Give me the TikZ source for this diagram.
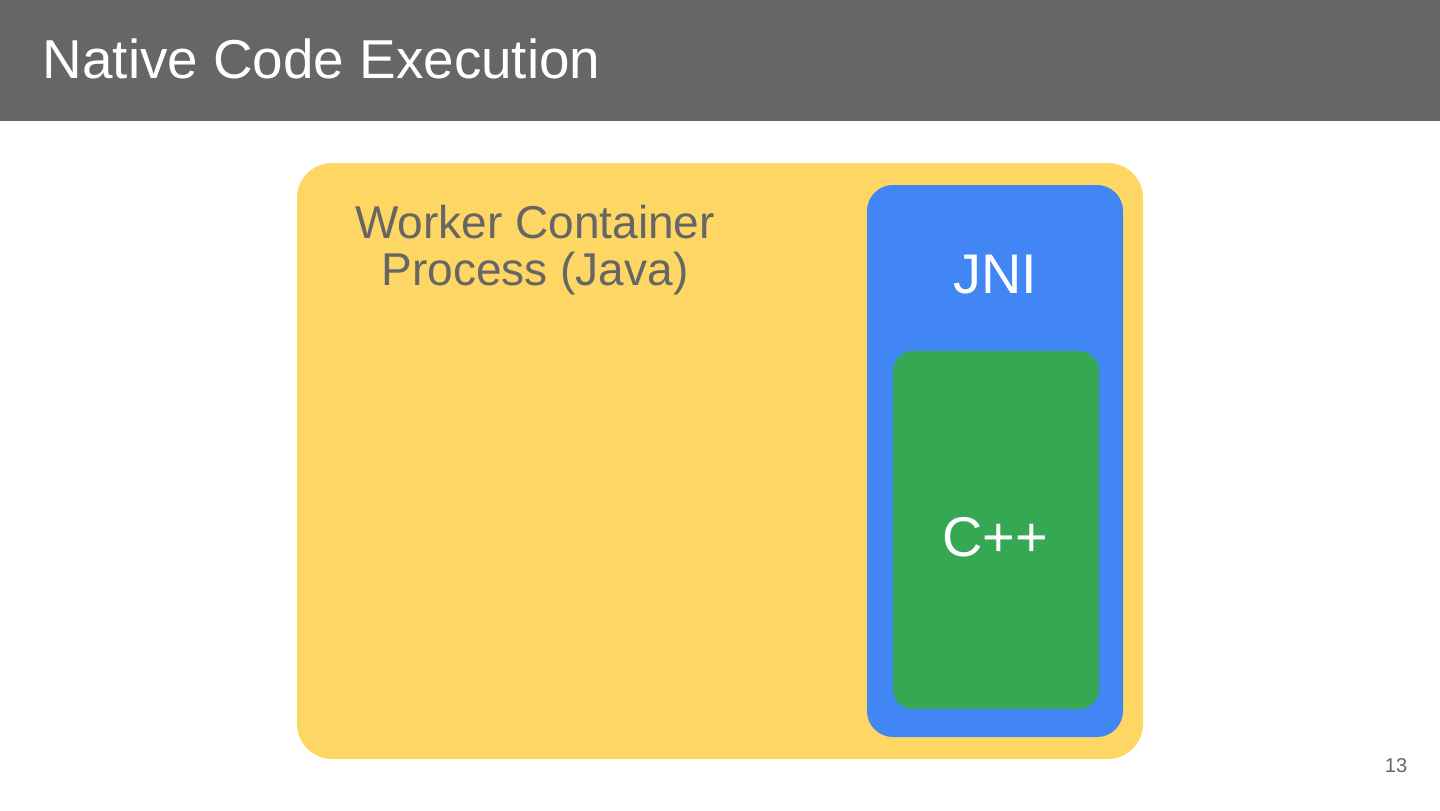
\documentclass[tikz,border=0pt]{standalone}
\usepackage{fontspec}
\setmainfont{Liberation Sans}
\usetikzlibrary{positioning}

\definecolor{headgray}{HTML}{666666}
\definecolor{javayellow}{HTML}{FDD663}
\definecolor{jniblue}{HTML}{4285F4}
\definecolor{cppgreen}{HTML}{34A853}

\begin{document}
\begin{tikzpicture}[x=0.1mm,y=-0.1mm,
  box/.style={rectangle, inner sep=0pt, outer sep=0pt, draw=none},
  label/.style={inner sep=0pt, font=\fontsize{15.9}{16}\selectfont}]
\useasboundingbox (0,0) rectangle (1440,810);

% header bar
\fill[headgray] (0,0) rectangle (1440,121);
\node[inner sep=0pt, anchor=base west, text=white,
      font=\fontsize{15.6}{16}\selectfont] (title) at (42,78) {Native Code Execution};

\node[box, fill=javayellow, rounded corners=3.5mm,
      minimum width=84.6mm, minimum height=59.6mm] (worker) at (720,461) {};
\node[box, fill=jniblue, rounded corners=2.6mm,
      minimum width=25.6mm, minimum height=55.2mm] (jni) at (995,461) {};
\node[box, fill=cppgreen, rounded corners=2mm,
      minimum width=20.6mm, minimum height=35.8mm] (cpp) at (996,530) {};

\node[inner sep=0pt, align=center, text=headgray,
      font=\fontsize{13.1}{13.6}\selectfont] (workertext) at (535,250)
      {Worker Container\\Process (Java)};
\node[label, text=white] (jnitext) at (995,275) {JNI};
\node[label, text=white] (cpptext) at (995,537) {C++};

\node[inner sep=0pt, text=headgray, font=\fontsize{5.7}{6}\selectfont] (page) at (1396,766) {13};
\end{tikzpicture}
\end{document}
